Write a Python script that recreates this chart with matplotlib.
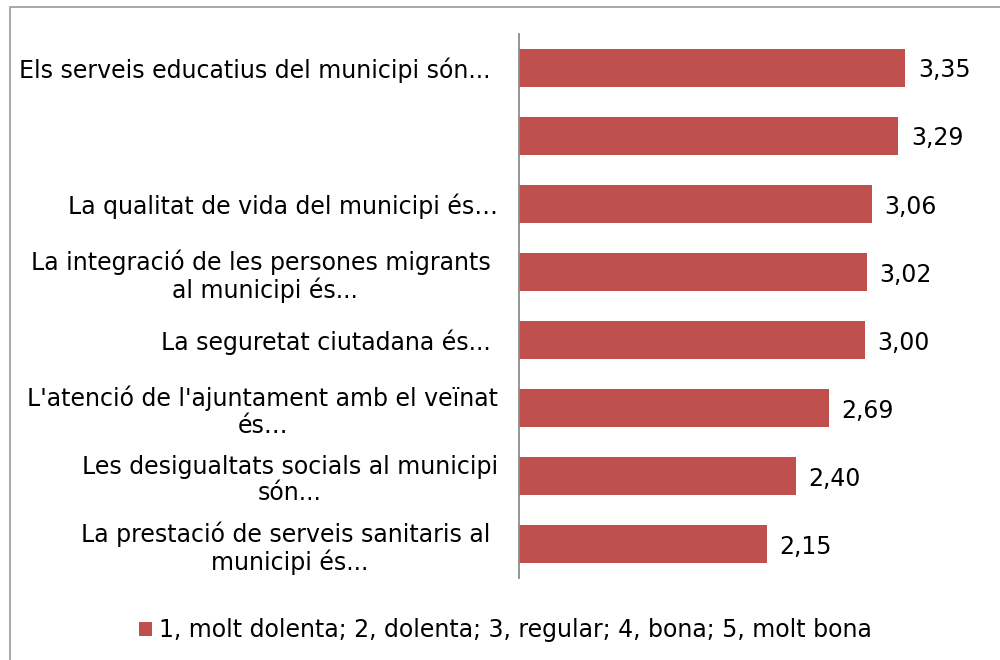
import matplotlib.pyplot as plt
from matplotlib.patches import Rectangle

# valoració mitjana dels aspectes del municipi (escala 1-5)
labels = [
    "Els serveis educatius del municipi són... ",
    "",
    "La qualitat de vida del municipi és…",
    "La integració de les persones migrants \nal municipi és...",
    "La seguretat ciutadana és... ",
    "L'atenció de l'ajuntament amb el veïnat\nés…",
    "Les desigualtats socials al municipi\nsón...",
    "La prestació de serveis sanitaris al \nmunicipi és...",
]
values = [3.35, 3.29, 3.06, 3.02, 3.00, 2.69, 2.40, 2.15]
legend_label = "1, molt dolenta; 2, dolenta; 3, regular; 4, bona; 5, molt bona"

bar_color = "#C0504D"
fs = 17

fig = plt.figure(figsize=(10, 6.6), dpi=100)
ax = fig.add_axes([0.519, 0.1242, 0.461, 0.8243])

ypos = list(range(len(values)))
bars = ax.barh(ypos, values, height=0.57, color=bar_color, label=legend_label)
ax.set_ylim(len(values) - 0.5, -0.5)
ax.set_xlim(0, 4)

ax.set_yticks(ypos)
ax.set_yticklabels(labels, fontsize=fs, multialignment="center", linespacing=1.15,
                   va="center_baseline")
ax.tick_params(axis="y", length=0, pad=15)
ax.set_xticks([])

for s in ["top", "right", "bottom"]:
    ax.spines[s].set_visible(False)
ax.spines["left"].set_color("#8c8c8c")
ax.spines["left"].set_linewidth(1.3)

for b, v in zip(bars, values):
    ax.text(b.get_width() + 0.11, b.get_y() + b.get_height() / 2,
            f"{v:.2f}".replace(".", ","), va="center_baseline", ha="left", fontsize=fs)

fig.legend(loc="center", bbox_to_anchor=(0.505, 0.045), frameon=False,
           fontsize=fs, handlelength=0.55, handleheight=0.55, handletextpad=0.3)

# marc exterior del gràfic
fig.patches.append(Rectangle((0.010, -0.1), 1.1, 1.089, transform=fig.transFigure,
                             fill=False, edgecolor="#9a9a9a", linewidth=1.2))

fig.savefig("out.png", dpi=100)
